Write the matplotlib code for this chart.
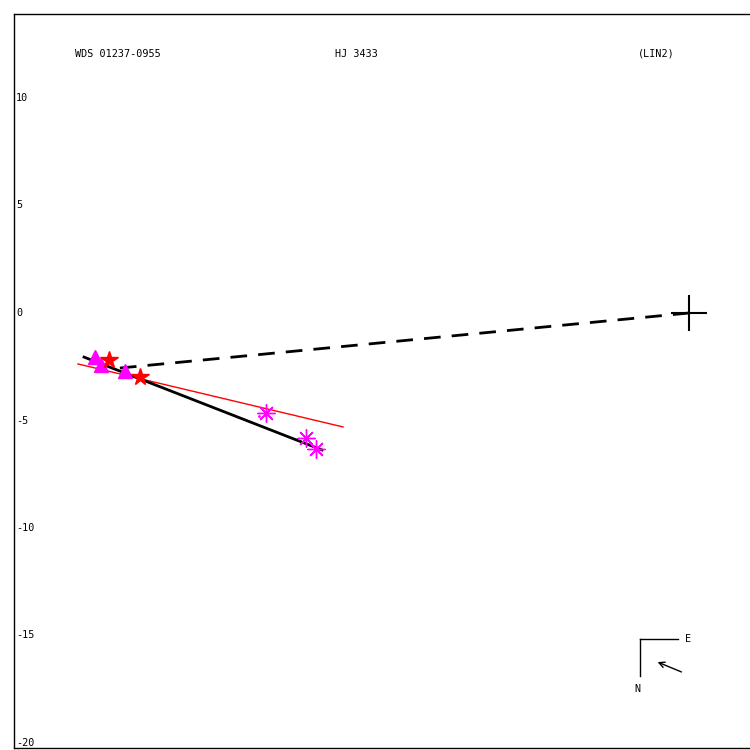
import matplotlib
matplotlib.use('Agg')
import matplotlib.pyplot as plt

# relative positions (arcsec), primary at origin
tri_x = [-27.63, -27.35, -26.23]
tri_y = [-2.05, -2.40, -2.70]
star_x = [-26.98, -25.53]
star_y = [-2.20, -2.98]
ast_x = [-19.67, -17.81, -17.35]
ast_y = [-4.65, -5.81, -6.33]
dot_x = [-20.0, -19.7]
dot_y = [-4.80, -4.75]

# linear fit (black) and red line
fit_x = [-28.14, -17.07]
fit_y = [-2.05, -6.37]
red_x = [-28.42, -16.09]
red_y = [-2.37, -5.30]
# dashed link from fit to primary
dash_x = [-26.47, 0.0]
dash_y = [-2.56, 0.0]

yticks = [10, 5, 0, -5, -10, -15, -20]

fig = plt.figure(figsize=(7.5, 7.5), dpi=100)
ax = fig.add_axes([14 / 750, 2 / 750, 736 / 750, 734 / 750])
ax.set_xlim((14 - 689) / 21.5, (750 - 689) / 21.5)
ax.set_ylim((313 - 748) / 21.5, (313 - 14) / 21.5)
ax.set_xticks([])
ax.set_yticks([])
for s in ax.spines.values():
    s.set_linewidth(1)
ax.spines['right'].set_visible(False)

font = dict(family='DejaVu Sans Mono', fontsize=7.3)

for v in yticks:
    ax.text(0.003, v, str(v), transform=ax.get_yaxis_transform(),
            ha='left', va='center', **font)

fig.text(75 / 750, 1 - 54 / 750, 'WDS 01237-0955', ha='left', va='center', **font)
fig.text(335 / 750, 1 - 54 / 750, 'HJ 3433', ha='left', va='center', **font)
fig.text(638 / 750, 1 - 54 / 750, '(LIN2)', ha='left', va='center', **font)

# lines
ax.plot(red_x, red_y, color='red', lw=1, zorder=2)
ax.plot(fit_x, fit_y, color='black', lw=2, zorder=3)
ax.plot(dash_x, dash_y, color='black', lw=2, ls=(0, (6, 4)), zorder=3)

# observations
ax.plot(tri_x, tri_y, '^', color='magenta', ms=10, mec='magenta', ls='none', zorder=4)
ax.plot(star_x, star_y, '*', color='red', ms=13, ls='none', zorder=5)
ax.plot(ast_x, ast_y, marker=(8, 2, 0), color='magenta', ms=13, mew=1, ls='none', zorder=4)
ax.plot(dot_x, dot_y, '.', color='magenta', ms=2, ls='none', zorder=4)

# primary
ax.plot([0], [0], '+', color='black', ms=26, mew=1.5, zorder=6)

# compass
cx, cy = (640 - 689) / 21.5, (313 - 639) / 21.5
ax.plot([cx, cx + 38 / 21.5], [cy, cy], color='black', lw=1)
ax.plot([cx, cx], [cy, cy - 37 / 21.5], color='black', lw=1)
ax.text(cx + 48 / 21.5, cy, 'E', ha='center', va='center', **font)
ax.text(cx - 3 / 21.5, cy - 50 / 21.5, 'N', ha='center', va='center', **font)
ax.annotate('', xy=((655 - 689) / 21.5, (313 - 661) / 21.5),
            xytext=((684 - 689) / 21.5, (313 - 673) / 21.5),
            arrowprops=dict(arrowstyle='->', color='black', lw=1))

fig.savefig('out.png', dpi=100)
